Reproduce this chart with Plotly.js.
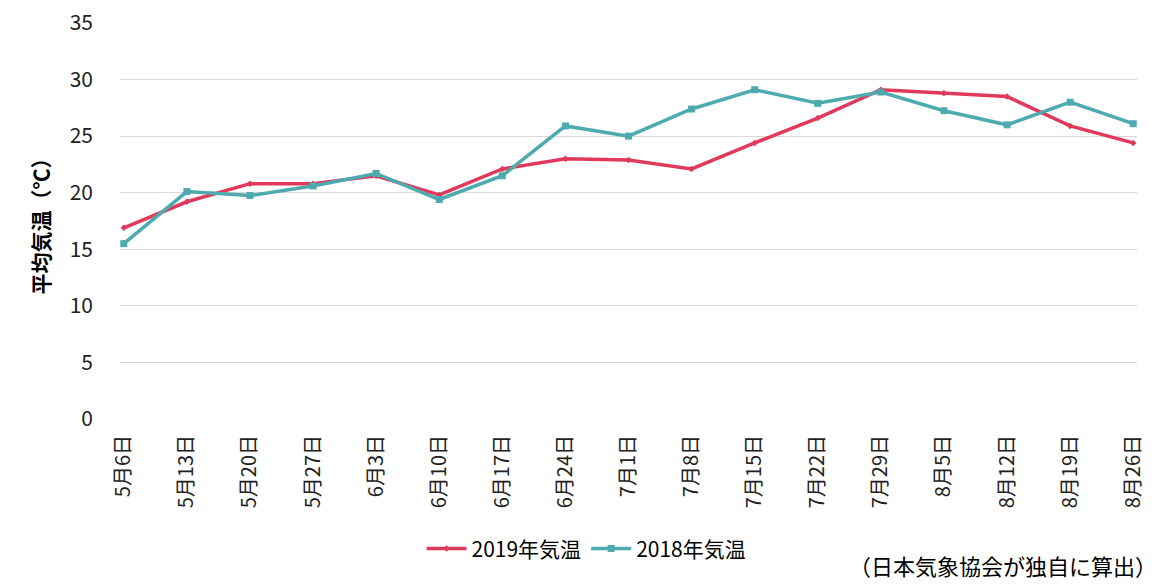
<!DOCTYPE html>
<html><head><meta charset="utf-8">
<script src="https://cdn.plot.ly/plotly-3.0.1.min.js"></script>
<style>html,body{margin:0;padding:0;background:#fff}#c{width:1173px;height:584px}</style>
</head><body><div id="c"></div>
<script>
const categories = ["5月6日","5月13日","5月20日","5月27日","6月3日","6月10日","6月17日","6月24日","7月1日","7月8日","7月15日","7月22日","7月29日","8月5日","8月12日","8月19日","8月26日"];
const temp2019 = [16.9,19.2,20.8,20.8,21.5,19.8,22.1,23.0,22.9,22.1,24.4,26.6,29.1,28.8,28.5,25.9,24.4];
const temp2018 = [15.5,20.1,19.75,20.6,21.7,19.4,21.5,25.9,25.0,27.4,29.1,27.9,28.9,27.25,26.0,28.0,26.1];
const yTicks = [0,5,10,15,20,25,30,35];
const fam = '"Noto Sans CJK JP", "Noto Sans", sans-serif';
const traces = [
  {x: categories, y: temp2019, name: "2019年気温", type: "scatter", mode: "lines+markers",
   line: {color: "#e0395b", width: 3.5}, marker: {symbol: "diamond", size: 5, color: "#e0395b"}},
  {x: categories, y: temp2018, name: "2018年気温", type: "scatter", mode: "lines+markers",
   line: {color: "#4dabb0", width: 3.5}, marker: {symbol: "square", size: 7, color: "#4dabb0"}}
];
const layout = {
  width: 1173, height: 584,
  margin: {l: 120, r: 36, t: 23, b: 165},
  paper_bgcolor: "#fff", plot_bgcolor: "#fff",
  font: {family: fam, size: 20, color: "#222"},
  showlegend: true,
  legend: {orientation: "h", xref: "container", yref: "container", x: 0.5, xanchor: "center", y: 0.06, yanchor: "middle",
           font: {family: fam, size: 21, color: "#000"}, itemwidth: 40, tracegroupgap: 0},
  xaxis: {type: "category", range: [-0.06, 16.06], tickangle: -90, showgrid: false, zeroline: false, showline: false,
          ticks: "", ticklabelstandoff: 11, tickfont: {family: fam, size: 20, color: "#222"}},
  yaxis: {range: [0, 35], tickvals: yTicks, ticktext: yTicks.map(String), showgrid: true, gridcolor: "#d9d9d9", gridwidth: 1,
          zeroline: false, showline: false, ticks: "", ticklabelstandoff: 26, tickfont: {family: fam, size: 21, color: "#222"},
          title: {text: "<b>平均気温（℃）</b>", font: {family: fam, size: 21, color: "#000"}, standoff: 14}},
  annotations: [{text: "（日本気象協会が独自に算出）", xref: "paper", yref: "paper", x: 1.022, y: -0.369,
                 xanchor: "right", yanchor: "middle", showarrow: false, font: {family: fam, size: 22, color: "#000"}}]
};
Plotly.newPlot("c", traces, layout, {displayModeBar: false, staticPlot: true});
</script></body></html>
